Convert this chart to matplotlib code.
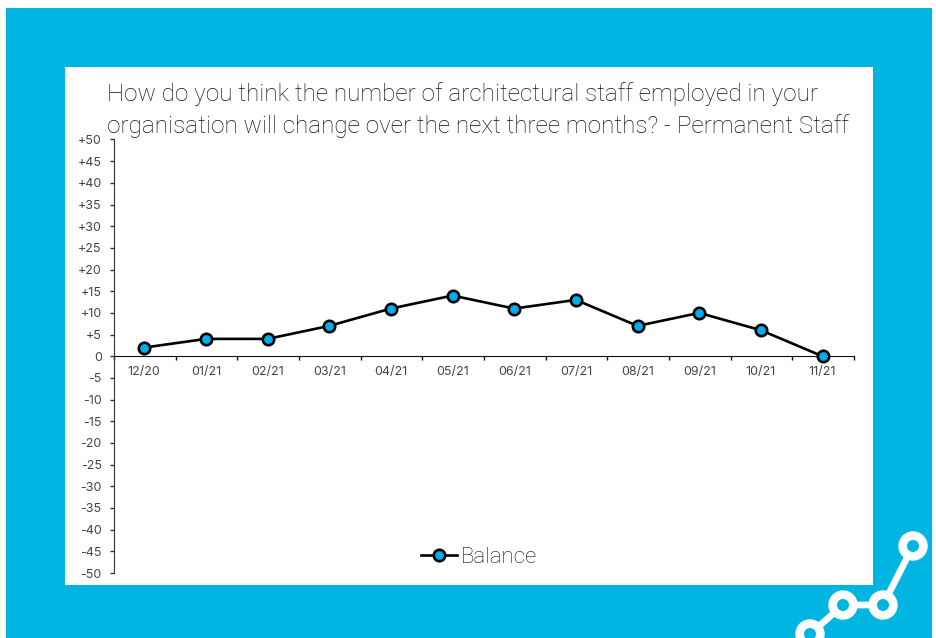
import numpy as np
import matplotlib; matplotlib.use("Agg")
import matplotlib.pyplot as plt
from matplotlib.patches import Rectangle, Circle

W, H = 936, 638
BLUE = "#00b5e2"
MARKER = "#00aeef"

months = ["12/20", "01/21", "02/21", "03/21", "04/21", "05/21",
          "06/21", "07/21", "08/21", "09/21", "10/21", "11/21"]
balance = [2, 4, 4, 7, 11, 14, 11, 13, 7, 10, 6, 0]
y_ticks = list(range(-50, 55, 5))
title_lines = ["How do you think the number of architectural staff employed in your",
               "organisation will change over the next three months? - Permanent Staff"]


def ytick_label(v):
    return f"+{v}" if v > 0 else str(v)


def px_axes(fig, left, top, right, bottom):
    return fig.add_axes([left / W, 1 - bottom / H, (right - left) / W, (bottom - top) / H])


fig = plt.figure(figsize=(W / 100, H / 100), dpi=100, facecolor="white")

# page furniture, laid out in pixel coordinates
bg = fig.add_axes([0, 0, 1, 1])
bg.set_xlim(0, W); bg.set_ylim(H, 0); bg.axis("off")
bg.add_patch(Rectangle((6, 8), 926, 630, fc=BLUE, ec="none"))
bg.add_patch(Rectangle((65, 67), 808, 518, fc="white", ec="none"))

# logo: linked rings, bottom right corner
nodes = [(913, 546), (883, 605), (843, 605), (810, 634)]
bg.plot([n[0] for n in nodes], [n[1] for n in nodes], color="white", lw=4.8, solid_capstyle="butt")
for cx, cy in nodes:
    bg.add_patch(Circle((cx, cy), 14.7, fc="white", ec="none", zorder=3))
    bg.add_patch(Circle((cx, cy), 6, fc=BLUE, ec="none", zorder=4))

for txt, y in zip(title_lines, [94.5, 126.5]):
    bg.text(107, y, txt, fontsize=17.5, family="Roboto", weight="light", color="#111111",
            va="center", ha="left")

# chart
ax = px_axes(fig, 114, 139.5, 854, 573)
ax.patch.set_alpha(0)
x = np.arange(len(months))
line, = ax.plot(x - 0.01, balance, color="black", lw=1.9, marker="o", ms=8.2, mfc=MARKER, mec="black",
                mew=1.9, label="Balance", clip_on=False, zorder=5)
ax.set_xlim(-0.5, len(months) - 0.5)
ax.set_ylim(-50, 50)
ax.set_yticks(y_ticks)
ax.set_yticklabels([ytick_label(v) for v in y_ticks], fontsize=9, family="Inter", color="#444444")
ax.tick_params(axis="y", length=3.2, width=1, color="#333333", pad=5.7)

# month labels sit below the zero line, ticks fall between the months
ax.spines["top"].set_visible(False)
ax.spines["right"].set_visible(False)
ax.spines["bottom"].set_position(("data", 0))
ax.spines["left"].set_color("#333333")
ax.spines["bottom"].set_color("#111111")
ax.set_xticks(np.arange(-0.5, len(months), 1))
ax.set_xticklabels([])
ax.tick_params(axis="x", direction="out", length=3, width=1, color="#111111")
for xi, m in zip(x, months):
    ax.annotate(m, (xi - 0.01, 0), xytext=(0, -7.2), textcoords="offset points", ha="center", va="top",
                fontsize=9, family="Inter", color="#444444")

leg = ax.legend(handles=[line], loc="center", bbox_to_anchor=((479 - 114) / 740, (573 - 557.5) / 433.5),
                frameon=False, handlelength=1.62, handletextpad=0.15,
                prop={"family": "Roboto", "weight": "light", "size": 16})
leg.get_texts()[0].set_color("#111111")

fig.savefig("out.png", dpi=100)
